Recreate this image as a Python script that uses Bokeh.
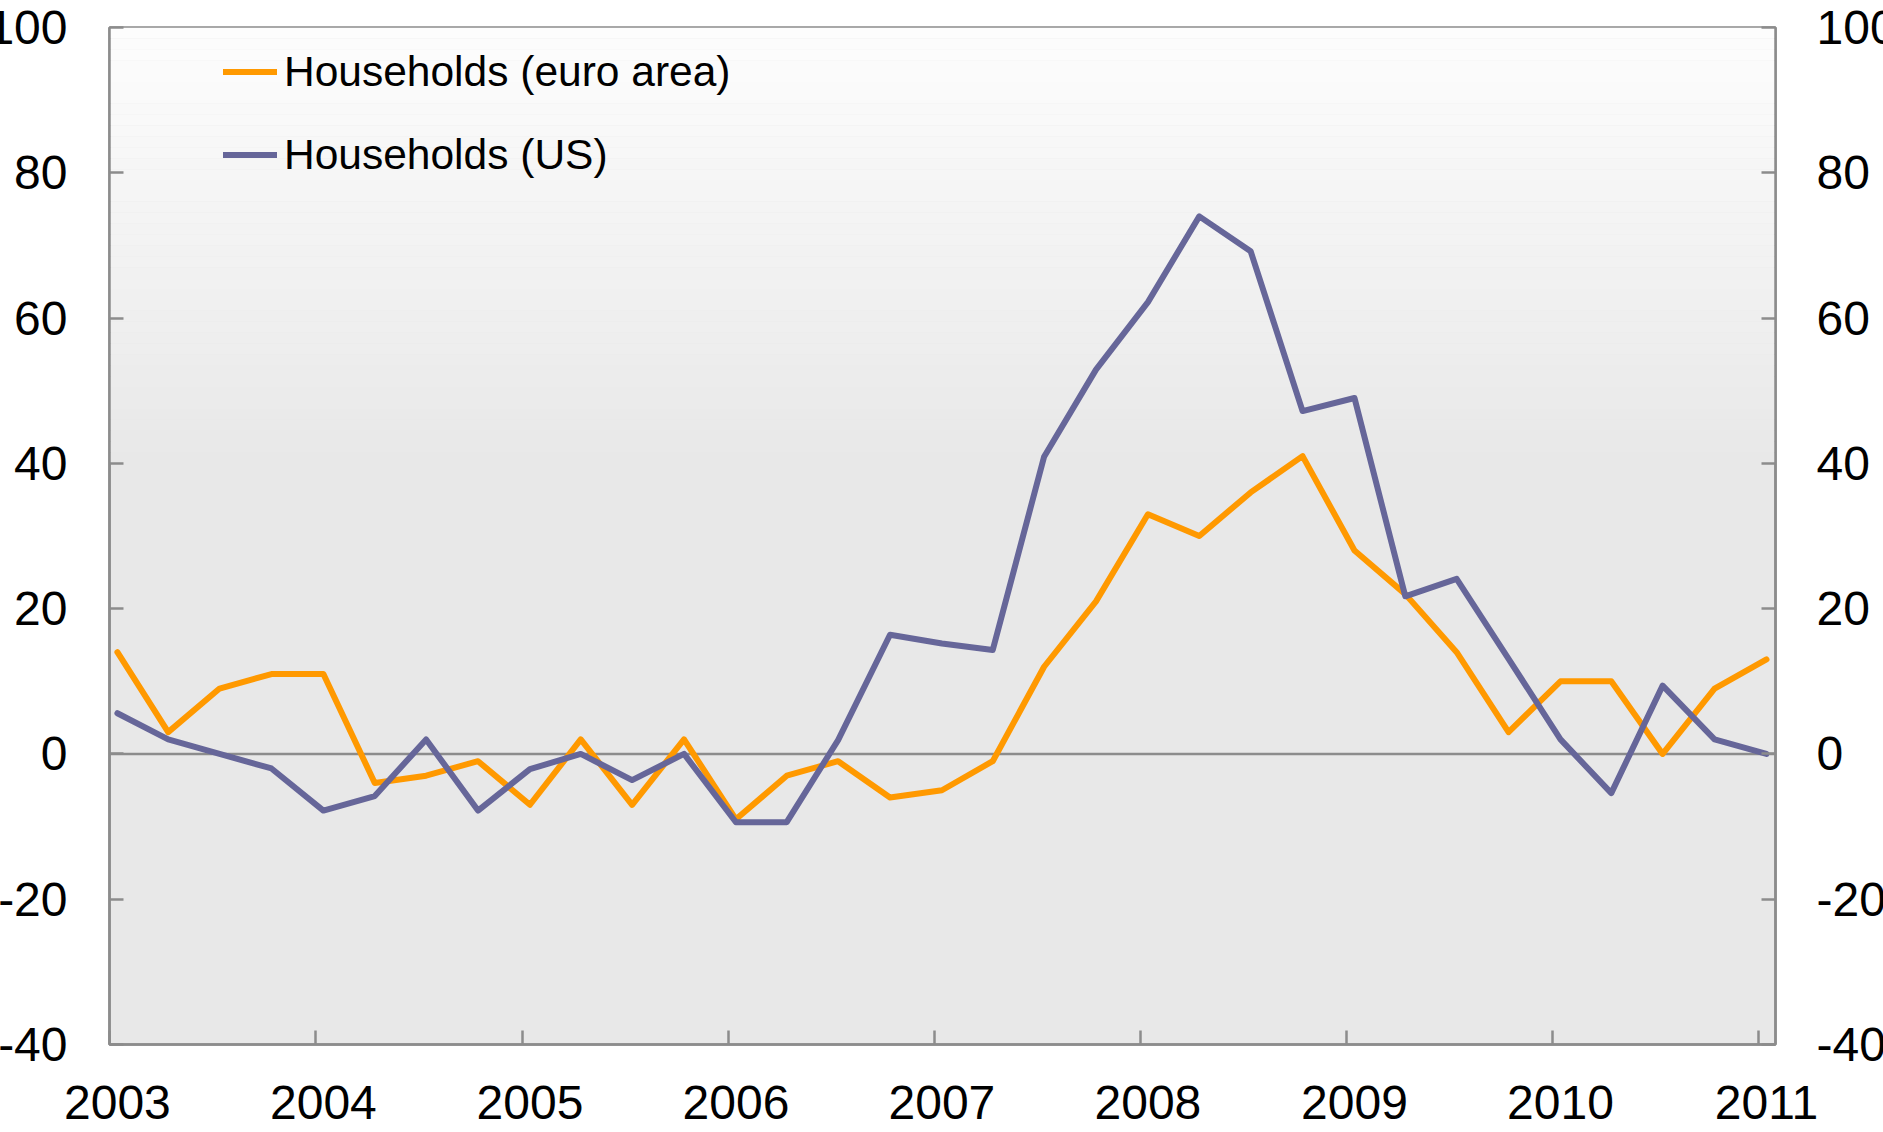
from datetime import datetime
from bokeh.plotting import figure
from bokeh.models import (LinearAxis, FixedTicker, DatetimeTickFormatter, Range1d,
                          Span, BoxAnnotation, Legend, LegendItem, ColumnDataSource)
from bokeh.embed import file_html
from bokeh.resources import INLINE

# ---- data ----
quarters = ["2003Q1", "2003Q2", "2003Q3", "2003Q4",
            "2004Q1", "2004Q2", "2004Q3", "2004Q4",
            "2005Q1", "2005Q2", "2005Q3", "2005Q4",
            "2006Q1", "2006Q2", "2006Q3", "2006Q4",
            "2007Q1", "2007Q2", "2007Q3", "2007Q4",
            "2008Q1", "2008Q2", "2008Q3", "2008Q4",
            "2009Q1", "2009Q2", "2009Q3", "2009Q4",
            "2010Q1", "2010Q2", "2010Q3", "2010Q4",
            "2011Q1"]
euro_area = [14, 3, 9, 11, 11, -4, -3, -1, -7, 2, -7, 2, -9, -3, -1, -6, -5, -1,
             12, 21, 33, 30, 36, 41, 28, 22, 14, 3, 10, 10, 0, 9, 13]
us = [5.6, 2, 0, -2, -7.8, -5.8, 2, -7.8, -2.1, 0, -3.6, 0, -9.4, -9.4, 1.9,
      16.4, 15.2, 14.3, 40.9, 52.9, 62.2, 74.0, 69.2, 47.2, 49.0, 21.7, 24.1,
      13.1, 2.0, -5.4, 9.4, 2.0, 0]
years = list(range(2003, 2012))
y_ticks = [-40, -20, 0, 20, 40, 60, 80, 100]
y_tick_labels = ["-40", "-20", "0", "20", "40", "60", "80", "100"]
series_names = ["Households (euro area)", "Households (US)"]

def qdate(q):
    y = int(q[:4]); n = int(q[-1])
    return datetime(y, 3 * (n - 1) + 1, 15)

def ms(d):
    return (d - datetime(1970, 1, 1)).total_seconds() * 1000.0

src = ColumnDataSource(dict(x=[qdate(q) for q in quarters], euro=euro_area, us=us))

FONT = "Liberation Sans"
GRAY = "#8c8c8c"
TICK_FS = "48px"

p = figure(frame_width=1666, frame_height=1017, x_axis_type="datetime",
           x_range=Range1d(datetime(2003, 1, 1), datetime(2011, 1, 31)),
           y_range=Range1d(-40, 100),
           output_backend="svg", toolbar_location=None,
           min_border_top=19, min_border_bottom=5, min_border_left=5, min_border_right=5)
p.margin = (8, 0, 0, -16)
p.background_fill_color = "#e8e8e8"
p.border_fill_color = "white"
p.outline_line_color = GRAY
p.outline_line_width = 2.5
p.xgrid.grid_line_color = None
p.ygrid.grid_line_color = None

# gradient background (top light -> gray)
nb = 40
top, bot = 100.0, 40.0
c0, c1 = 253, 232
for i in range(nb):
    t0 = top - (top - bot) * i / nb
    t1 = top - (top - bot) * (i + 1) / nb
    c = int(round(c0 + (c1 - c0) * (i + 0.5) / nb))
    p.add_layout(BoxAnnotation(top=t0, bottom=t1, fill_color=(c, c, c), fill_alpha=1.0,
                               line_alpha=0, level="underlay"))

p.add_layout(Span(location=0, dimension="width", line_color=GRAY, line_width=2.5, level="underlay"))

r1 = p.line("x", "euro", source=src, line_color="#FF9900", line_width=6,
            line_join="round", line_cap="round")
r2 = p.line("x", "us", source=src, line_color="#666699", line_width=6,
            line_join="round", line_cap="round")

# x axis
xa = p.xaxis[0]
xa.ticker = FixedTicker(ticks=[ms(datetime(y, 1, 15)) for y in years],
                        minor_ticks=[ms(datetime(y, 1, 1)) for y in years])
xa.formatter = DatetimeTickFormatter(years="%Y", months="%Y", days="%Y", hours="%Y")
xa.major_tick_line_color = None
xa.minor_tick_in = 14
xa.minor_tick_out = 0
xa.minor_tick_line_color = GRAY
xa.minor_tick_line_width = 2.5
xa.axis_line_color = GRAY
xa.axis_line_width = 2.5
xa.major_label_standoff = 35
xa.major_label_text_font = FONT
xa.major_label_text_font_size = TICK_FS
xa.major_label_text_color = "black"

# y axes
ya = p.yaxis[0]
ya.ticker = FixedTicker(ticks=y_ticks)
yr = LinearAxis(ticker=FixedTicker(ticks=y_ticks))
p.add_layout(yr, "right")
for ax, so in ((ya, 42), (yr, 41)):
    ax.major_tick_in = 14
    ax.major_tick_out = 0
    ax.minor_tick_line_color = None
    ax.major_tick_line_color = GRAY
    ax.major_tick_line_width = 2.5
    ax.axis_line_color = GRAY
    ax.axis_line_width = 2.5
    ax.major_label_standoff = so
    ax.major_label_overrides = {t: s for t, s in zip(y_ticks, y_tick_labels)}
    ax.major_label_text_font = FONT
    ax.major_label_text_font_size = TICK_FS
    ax.major_label_text_color = "black"

legend = Legend(items=[LegendItem(label=series_names[0], renderers=[r1]),
                       LegendItem(label=series_names[1], renderers=[r2])],
                location=(114, 848), glyph_width=54, glyph_height=83, label_height=83,
                spacing=0, padding=0, margin=0, label_standoff=7,
                label_text_font=FONT, label_text_font_size="42.5px", label_text_color="black",
                background_fill_alpha=0, border_line_color=None)
p.add_layout(legend)

open("out.html", "w").write(file_html(p, INLINE))
